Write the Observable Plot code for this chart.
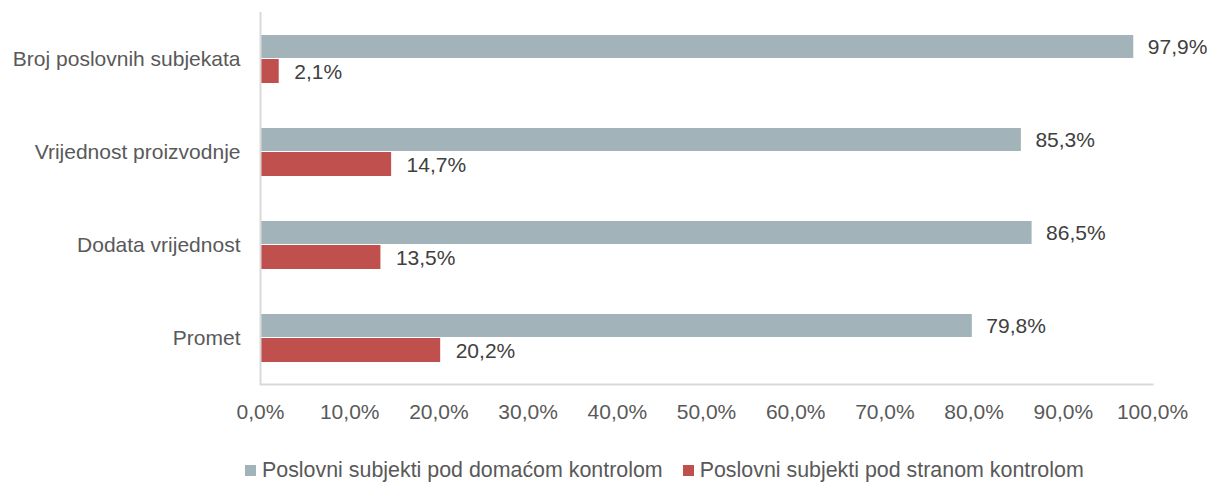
<!DOCTYPE html>
<html>
<head>
<meta charset="utf-8">
<script src="https://cdn.jsdelivr.net/npm/d3@7"></script>
<script src="https://cdn.jsdelivr.net/npm/@observablehq/plot@0.6"></script>
<style>
  html, body { margin: 0; padding: 0; background: #fff; }
  body { font-family: "Liberation Sans", Arial, sans-serif; color: #595959; width: 1209px; }
  #legend { display: flex; align-items: center; padding-left: 245px; height: 38px; margin-top: 6px; font-size: 21.4px; color: #595959; }
  #legend .item { display: flex; align-items: center; margin-right: 20px; }
  #legend .sw { width: 11px; height: 11px; margin-right: 6px; }
</style>
</head>
<body>
<div id="chart"></div>
<div id="legend"></div>
<script>
const categories = ["Broj poslovnih subjekata", "Vrijednost proizvodnje", "Dodata vrijednost", "Promet"];
const domestic = [97.9, 85.3, 86.5, 79.8];
const foreign = [2.1, 14.7, 13.5, 20.2];
const seriesNames = ["Poslovni subjekti pod domaćom kontrolom", "Poslovni subjekti pod stranom kontrolom"];
const seriesColors = ["#a2b4ba", "#c0504d"];
const xTicks = [0, 10, 20, 30, 40, 50, 60, 70, 80, 90, 100];

const dom = categories.map((c, i) => ({category: c, value: domestic[i]}));
const str = categories.map((c, i) => ({category: c, value: foreign[i]}));
const fmt = v => v.toFixed(1).replace(".", ",") + "%";

const plot = Plot.plot({
  width: 1209,
  height: 445,
  marginLeft: 260,
  marginRight: 57,
  marginTop: 12,
  marginBottom: 61,
  style: {fontFamily: "'Liberation Sans', Arial, sans-serif", fontSize: "21px", color: "#595959", background: "#fff"},
  x: {domain: [0, 100], ticks: xTicks, tickFormat: fmt, label: null},
  y: {domain: categories, padding: 0, label: null},
  marks: [
    Plot.barX(dom, {x: "value", y: "category", fill: seriesColors[0], insetTop: 23, insetBottom: 47}),
    Plot.barX(str, {x: "value", y: "category", fill: seriesColors[1], insetTop: 47, insetBottom: 22}),
    Plot.text(dom, {x: "value", y: "category", text: d => fmt(d.value), textAnchor: "start", dx: 14, dy: -12, fill: "#404040", fontSize: 21}),
    Plot.text(str, {x: "value", y: "category", text: d => fmt(d.value), textAnchor: "start", dx: 15, dy: 13, fill: "#404040", fontSize: 21}),
    Plot.ruleX([0], {stroke: "#d9d9d9", strokeWidth: 2}),
    Plot.frame({anchor: "bottom", stroke: "#d9d9d9", strokeWidth: 2}),
    Plot.axisX({ticks: xTicks, tickFormat: fmt, tickSize: 0, tickPadding: 20, fill: "#595959", fontSize: 21, label: null}),
    Plot.axisY({tickSize: 0, tickPadding: 20, fill: "#595959", fontSize: 21, label: null})
  ]
});
document.getElementById("chart").appendChild(plot);

const legend = document.getElementById("legend");
seriesNames.forEach((name, i) => {
  const item = document.createElement("div");
  item.className = "item";
  const sw = document.createElement("div");
  sw.className = "sw";
  sw.style.background = seriesColors[i];
  const t = document.createElement("span");
  t.textContent = name;
  item.appendChild(sw);
  item.appendChild(t);
  legend.appendChild(item);
});
</script>
</body>
</html>
